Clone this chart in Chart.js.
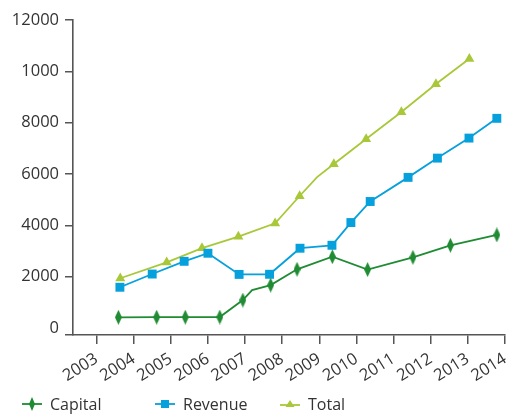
<!DOCTYPE html>
<html>
<head>
<meta charset="utf-8">
<script src="https://cdn.jsdelivr.net/npm/chart.js@4.4.1/dist/chart.umd.min.js"></script>
<style>
  body { margin: 0; background: #fff; }
  #wrap { position: relative; width: 513px; height: 414px; }
  #legend {
    position: absolute; left: 22px; top: 393px;
    display: flex; font: 16px 'Open Sans', sans-serif; color: #333; line-height: 22px;
  }
  .item { display: flex; align-items: center; }
  .item svg { margin-right: 8px; }
</style>
</head>
<body>
<div id="wrap">
  <canvas id="chart"></canvas>
  <div id="legend">
    <div class="item" style="width:133px">
      <svg width="20" height="16"><line x1="0" y1="8" x2="20" y2="8" stroke="#1f8b32" stroke-width="1.8"/><polygon points="10,1 13,8 10,15 7,8" fill="#1f8b32"/></svg>Capital
    </div>
    <div class="item" style="width:125px">
      <svg width="20" height="16"><line x1="0" y1="8" x2="20" y2="8" stroke="#06a0dc" stroke-width="1.8"/><rect x="6" y="4" width="8" height="8" fill="#06a0dc"/></svg>Revenue
    </div>
    <div class="item">
      <svg width="20" height="16"><line x1="0" y1="9" x2="20" y2="9" stroke="#a8c83a" stroke-width="1.8"/><polygon points="10,4 14.5,11 5.5,11" fill="#a8c83a"/></svg>Total
    </div>
  </div>
</div>
<script>
// Données
const anosEixo = [2003, 2004, 2005, 2006, 2007, 2008, 2009, 2010, 2011, 2012, 2013, 2014];
const valoresEixoY = [0, 2000, 4000, 6000, 8000, 10000, 12000];
const rotulosEixoY = ['0', '2000', '4000', '6000', '8000', '1000', '12000'];

const capitalAnos = [2003.59, 2004.62, 2005.39, 2006.32, 2006.94, 2007.19, 2007.69, 2008.40, 2009.35, 2010.30, 2011.52, 2012.53, 2013.78];
const capitalValores = [420, 425, 425, 430, 1090, 1480, 1675, 2290, 2780, 2280, 2755, 3225, 3630];
const capitalMarcas = [1, 1, 1, 1, 1, 0, 1, 1, 1, 1, 1, 1, 1];

const revenueAnos = [2003.63, 2004.50, 2005.36, 2006.00, 2006.84, 2007.66, 2008.48, 2009.34, 2009.85, 2010.37, 2011.39, 2012.18, 2013.03, 2013.78];
const revenueValores = [1590, 2105, 2600, 2915, 2090, 2095, 3110, 3225, 4110, 4930, 5870, 6620, 7400, 8170];

const totalAnos = [2003.64, 2004.89, 2005.84, 2006.82, 2007.81, 2008.47, 2008.94, 2009.39, 2010.26, 2011.21, 2012.14, 2013.04];
const totalValores = [1940, 2560, 3115, 3560, 4080, 5145, 5880, 6390, 7365, 8415, 9505, 10490];
const totalMarcas = [1, 1, 1, 1, 1, 1, 0, 1, 1, 1, 1, 1];

// Cores
const corCapital = '#1f8b32';
const corRevenue = '#06a0dc';
const corTotal = '#a8c83a';
const corEixo = '#555555';
const corTexto = '#333333';

const yMin = -270;

function pontos(anos, valores) {
    return anos.map((a, i) => ({ x: a, y: valores[i] }));
}

function losango(cor, w, h) {
    const c = document.createElement('canvas');
    c.width = w;
    c.height = h;
    const g = c.getContext('2d');
    g.fillStyle = cor;
    g.beginPath();
    g.moveTo(w / 2, 0);
    g.lineTo(w, h / 2);
    g.lineTo(w / 2, h);
    g.lineTo(0, h / 2);
    g.closePath();
    g.fill();
    return c;
}

const iconeCapital = losango(corCapital, 7, 15);

const ctx = document.getElementById('chart').getContext('2d');
new Chart(ctx, {
    type: 'line',
    data: {
        datasets: [{
            label: 'Capital',
            data: pontos(capitalAnos, capitalValores),
            borderColor: corCapital,
            backgroundColor: corCapital,
            borderWidth: 1.8,
            pointStyle: iconeCapital,
            pointRadius: capitalMarcas.map(m => m ? 5 : 0),
            pointBorderWidth: 0
        }, {
            label: 'Revenue',
            data: pontos(revenueAnos, revenueValores),
            borderColor: corRevenue,
            backgroundColor: corRevenue,
            borderWidth: 1.8,
            pointStyle: 'rect',
            pointRadius: 6.3,
            pointBorderWidth: 0
        }, {
            label: 'Total',
            data: pontos(totalAnos, totalValores),
            borderColor: corTotal,
            backgroundColor: corTotal,
            borderWidth: 1.8,
            pointStyle: 'triangle',
            pointRadius: totalMarcas.map(m => m ? 5.8 : 0),
            pointBorderWidth: 0
        }]
    },
    options: {
        responsive: true,
        maintainAspectRatio: false,
        animation: false,
        layout: {
            padding: { left: 0, right: 8, top: 20, bottom: 30 }
        },
        plugins: {
            legend: { display: false },
            tooltip: { enabled: false }
        },
        elements: {
            line: { tension: 0 }
        },
        scales: {
            x: {
                type: 'linear',
                min: 2002.367,
                max: 2014,
                border: { display: true, color: corEixo, width: 1.6 },
                grid: {
                    display: true,
                    drawOnChartArea: false,
                    drawTicks: true,
                    tickLength: 9,
                    color: corEixo,
                    lineWidth: 1.5
                },
                ticks: {
                    autoSkip: false,
                    maxRotation: 32,
                    minRotation: 32,
                    padding: 5,
                    color: corTexto,
                    font: { family: 'Open Sans', size: 16.5 },
                    callback: v => String(v)
                },
                afterBuildTicks: scale => {
                    scale.ticks = anosEixo.map(v => ({ value: v }));
                },
                afterFit: scale => {
                    scale.height = 49;
                    scale.paddingLeft = 0;
                    scale.paddingRight = 0;
                }
            },
            y: {
                min: yMin,
                max: 12000,
                border: { display: true, color: corEixo, width: 1.6 },
                grid: {
                    display: true,
                    drawOnChartArea: false,
                    drawTicks: true,
                    tickLength: 8,
                    color: c => (c.tick && c.tick.value === 0) ? 'rgba(0,0,0,0)' : corEixo,
                    lineWidth: 1.5
                },
                ticks: {
                    padding: 6,
                    color: corTexto,
                    font: { family: 'Open Sans', size: 16.5 },
                    callback: v => {
                        const i = valoresEixoY.indexOf(v);
                        return i < 0 ? '' : rotulosEixoY[i];
                    }
                },
                afterBuildTicks: scale => {
                    scale.ticks = [{ value: yMin }].concat(valoresEixoY.map(v => ({ value: v })));
                },
                afterFit: scale => {
                    scale.width = 73;
                    scale.paddingTop = 0;
                    scale.paddingBottom = 0;
                }
            }
        }
    }
});
</script>
</body>
</html>
